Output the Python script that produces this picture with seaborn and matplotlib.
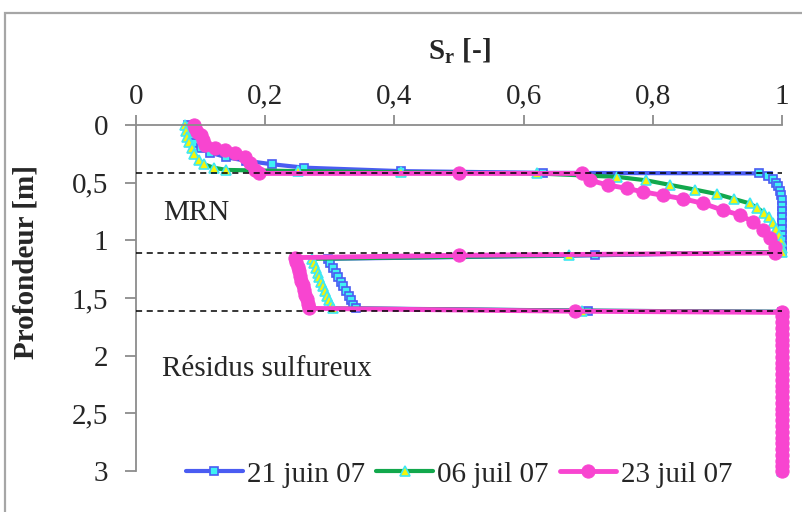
import matplotlib
matplotlib.use("Agg")
import matplotlib.pyplot as plt
import seaborn as sns
from matplotlib.patches import Rectangle
from matplotlib.ticker import FixedLocator, FuncFormatter

sns.set_theme(style="white")
plt.rcParams['font.family'] = ['Liberation Serif', 'DejaVu Serif']
plt.rcParams['mathtext.fontset'] = 'custom'
plt.rcParams['mathtext.rm'] = 'Liberation Serif'
plt.rcParams['mathtext.bf'] = 'Liberation Serif:bold'

# depth below 1.62 m is the same node list for the three dates
depth_bottom = [1.66, 1.71, 1.76, 1.81, 1.86, 1.91, 1.96, 2.01, 2.06, 2.11, 2.16,
                2.21, 2.26, 2.31, 2.36, 2.41, 2.46, 2.51, 2.56, 2.61, 2.66, 2.71,
                2.76, 2.81, 2.86, 2.91, 2.96, 3.00]
sr_bottom = [1.0] * len(depth_bottom)

# 21 juin 07
depth_juin21 = [0.00, 0.04, 0.08, 0.12, 0.16, 0.20, 0.24, 0.28, 0.31, 0.34, 0.37,
                0.40, 0.415, 0.42, 0.44, 0.47, 0.50, 0.53, 0.57, 0.61, 0.65, 0.70,
                0.75, 0.80, 0.85, 0.90, 0.95, 1.00, 1.05, 1.10, 1.13, 1.16, 1.20,
                1.24, 1.28, 1.32, 1.36, 1.40, 1.44, 1.48, 1.52, 1.56, 1.59, 1.61,
                1.62] + depth_bottom
sr_juin21 = [0.08, 0.08, 0.082, 0.085, 0.09, 0.10, 0.115, 0.14, 0.17, 0.21, 0.26,
             0.41, 0.63, 0.965, 0.978, 0.986, 0.991, 0.994, 0.997, 0.999, 1.0, 1.0,
             1.0, 1.0, 1.0, 1.0, 1.0, 1.0, 1.0, 1.0, 0.71, 0.297, 0.301,
             0.305, 0.309, 0.313, 0.317, 0.321, 0.325, 0.329, 0.333, 0.336, 0.34, 0.70,
             1.0] + sr_bottom

# 06 juil 07
depth_juil06 = [0.00, 0.05, 0.10, 0.15, 0.20, 0.25, 0.30, 0.34, 0.37, 0.39, 0.40,
                0.41, 0.42, 0.45, 0.48, 0.52, 0.56, 0.60, 0.64, 0.68, 0.72, 0.76,
                0.80, 0.85, 0.90, 0.95, 1.01, 1.07, 1.10, 1.13, 1.16, 1.20, 1.24,
                1.28, 1.32, 1.36, 1.40, 1.44, 1.48, 1.52, 1.56, 1.59, 1.61,
                1.62] + depth_bottom
sr_juil06 = [0.076, 0.077, 0.079, 0.082, 0.086, 0.09, 0.097, 0.105, 0.12, 0.14, 0.25,
             0.41, 0.62, 0.745, 0.79, 0.827, 0.865, 0.90, 0.925, 0.95, 0.962, 0.972,
             0.98, 0.986, 0.991, 0.995, 0.998, 1.0, 1.0, 0.67, 0.272, 0.275, 0.278,
             0.281, 0.284, 0.287, 0.290, 0.293, 0.296, 0.299, 0.302, 0.305, 0.69,
             1.0] + sr_bottom

# 23 juil 07
depth_juil23 = [0.00, 0.03, 0.06, 0.09, 0.13, 0.17, 0.20, 0.22, 0.24, 0.28, 0.33,
                0.39, 0.42, 0.42, 0.42, 0.48, 0.52, 0.55, 0.58, 0.61, 0.64, 0.68,
                0.74, 0.78, 0.84, 0.91, 0.98, 1.06, 1.11, 1.13, 1.15, 1.19, 1.23,
                1.27, 1.31, 1.35, 1.39, 1.43, 1.47, 1.51, 1.55, 1.59, 1.615,
                1.625] + depth_bottom
sr_juil23 = [0.09, 0.092, 0.095, 0.10, 0.104, 0.107, 0.122, 0.138, 0.153, 0.169, 0.176,
             0.184, 0.19, 0.50, 0.69, 0.703, 0.73, 0.76, 0.785, 0.816, 0.847, 0.878,
             0.909, 0.935, 0.955, 0.971, 0.981, 0.989, 0.989, 0.50, 0.246, 0.248, 0.250,
             0.252, 0.254, 0.256, 0.258, 0.260, 0.262, 0.264, 0.266, 0.268, 0.68,
             1.0] + sr_bottom

layer_depths = [0.42, 1.11, 1.61]
x_ticks = [0, 0.2, 0.4, 0.6, 0.8, 1]
y_ticks = [0, 0.5, 1, 1.5, 2, 2.5, 3]

FS = 21

fig = plt.figure(figsize=(8.03, 5.12), dpi=100)
ax = fig.add_axes([0.1694, 0.0801, 0.8044, 0.6758])

sns.lineplot(x=sr_juin21, y=depth_juin21, sort=False, estimator=None, ax=ax,
             color='#4A5CF2', lw=3, marker='s', markersize=6,
             markerfacecolor='#3FF2F2', markeredgecolor='#4A5CF2', markeredgewidth=1.2,
             label='21 juin 07')
sns.lineplot(x=sr_juil06, y=depth_juil06, sort=False, estimator=None, ax=ax,
             color='#12A84C', lw=3, marker='^', markersize=7,
             markerfacecolor='#F5F50A', markeredgecolor='#3FE8F2', markeredgewidth=1.2,
             label='06 juil 07')
sns.lineplot(x=sr_juil23, y=depth_juil23, sort=False, estimator=None, ax=ax,
             color='#F845D0', lw=3.5, marker='o', markersize=9.5,
             markerfacecolor='#F845D0', markeredgecolor='#F845D0',
             label='23 juil 07')
for ln in ax.lines:
    ln.set_clip_on(False)

ax.hlines(layer_depths, 0, 1, colors='black', linestyles=(0, (4, 3)), lw=1.1, zorder=5)

ax.set_xlim(0, 1)
ax.set_ylim(3, 0)
ax.xaxis.set_major_locator(FixedLocator(x_ticks))
ax.yaxis.set_major_locator(FixedLocator(y_ticks))
comma = FuncFormatter(lambda v, p: ('%g' % v).replace('.', ','))
ax.xaxis.set_major_formatter(comma)
ax.yaxis.set_major_formatter(comma)
ax.xaxis.tick_top()
ax.xaxis.set_label_position('top')
ax.tick_params(axis='x', which='major', direction='out', length=7, width=1.3,
               color='#8C8C8C', labelsize=FS, pad=4, top=True, bottom=False)
ax.tick_params(axis='y', which='major', direction='out', length=8, width=1.3,
               color='#8C8C8C', labelsize=FS, pad=12, left=True)
for side in ['right', 'bottom']:
    ax.spines[side].set_visible(False)
for side in ['top', 'left']:
    ax.spines[side].set_color('#8C8C8C')
    ax.spines[side].set_linewidth(1.3)

ax.set_xlabel(r'$\mathbf{S}_\mathbf{r}$ [-]', fontsize=FS, fontweight='bold', labelpad=18)
ax.set_ylabel('Profondeur [m]', fontsize=FS, fontweight='bold')
ax.yaxis.set_label_coords(-0.149, 0.604)

ax.text(0.042, 0.76, 'MRN', fontsize=FS, va='center', ha='left')
ax.text(0.04, 2.12, 'Résidus sulfureux', fontsize=FS, va='center', ha='left')

ax.legend(loc='center', bbox_to_anchor=(0.5, -0.01), ncol=3, frameon=False,
          fontsize=FS, handlelength=1.95, handletextpad=0.14, columnspacing=0.38,
          borderaxespad=0)

fig.add_artist(Rectangle((0.0062, -0.1), 1.2, 1.0746, transform=fig.transFigure,
                         fill=False, edgecolor='#A6A6A6', lw=1.6))

fig.savefig('out.png', dpi=100)
